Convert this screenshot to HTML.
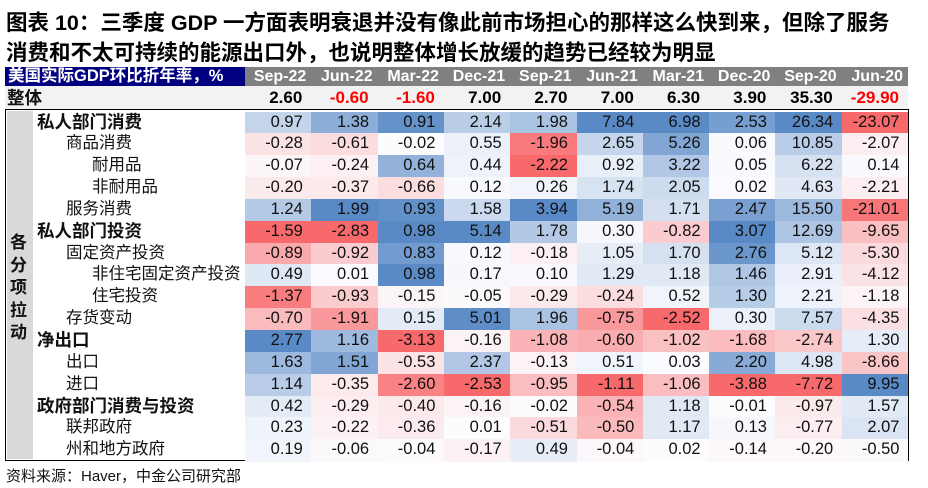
<!DOCTYPE html>
<html><head><meta charset="utf-8">
<style>
body{margin:0;width:928px;height:488px;background:#fff;font-family:"Liberation Sans","Noto Sans CJK SC",sans-serif;position:relative;overflow:hidden}
.t{position:absolute;left:6px;font-size:21.5px;font-weight:bold;color:#000;white-space:nowrap}
.abs{position:absolute;box-sizing:border-box}
.cell{position:absolute;text-align:right;font-size:16.5px;color:#111;box-sizing:border-box;padding-right:9px}
.lab{position:absolute;font-size:16.5px;color:#111;white-space:nowrap}
</style></head><body>
<div class="t" style="top:6px">图表 10：三季度 GDP 一方面表明衰退并没有像此前市场担心的那样这么快到来，但除了服务</div>
<div class="t" style="top:36px">消费和不太可持续的能源出口外，也说明整体增长放缓的趋势已经较为明显</div>
<div class="abs" style="left:5px;top:67px;width:240px;height:19px;background:#000080;color:#fff;font-size:16.5px;font-weight:bold;padding-left:3px;line-height:19px;white-space:nowrap">美国实际GDP环比折年率，%</div>
<div class="abs" style="left:245px;top:67px;width:663px;height:19px;background:#808080"></div>
<div class="abs" style="left:5px;top:86px;width:903px;height:23px;background:#f2f2f2"></div>
<div class="lab" style="left:7px;top:87px;font-weight:bold;font-size:17.5px;line-height:22px">整体</div>
<div class="abs" style="left:5px;top:109px;width:904px;height:352px;border:1.5px solid #000"></div>
<div class="abs" style="left:7px;top:111px;width:26px;height:348px;background:#d9d9d9"></div>
<div class="lab" style="left:10px;top:232px;font-weight:bold;font-size:17px;width:19px;white-space:normal;line-height:22.5px">各分项拉动</div>
<div id="root"></div>
<div class="lab" style="left:6px;top:465px;font-size:15px">资料来源：Haver，中金公司研究部</div>
<script>
const dates=["Sep-22","Jun-22","Mar-22","Dec-21","Sep-21","Jun-21","Mar-21","Dec-20","Sep-20","Jun-20"];
const totals=[2.60,-0.60,-1.60,7.00,2.70,7.00,6.30,3.90,35.30,-29.90];
const rowLabels=["私人部门消费","商品消费","耐用品","非耐用品","服务消费","私人部门投资","固定资产投资","非住宅固定资产投资","住宅投资","存货变动","净出口","出口","进口","政府部门消费与投资","联邦政府","州和地方政府"];
const rowLevels=[0,1,2,2,1,0,1,2,2,1,0,1,1,0,1,1];
const values=[
[0.97,1.38,0.91,2.14,1.98,7.84,6.98,2.53,26.34,-23.07],
[-0.28,-0.61,-0.02,0.55,-1.96,2.65,5.26,0.06,10.85,-2.07],
[-0.07,-0.24,0.64,0.44,-2.22,0.92,3.22,0.05,6.22,0.14],
[-0.20,-0.37,-0.66,0.12,0.26,1.74,2.05,0.02,4.63,-2.21],
[1.24,1.99,0.93,1.58,3.94,5.19,1.71,2.47,15.50,-21.01],
[-1.59,-2.83,0.98,5.14,1.78,0.30,-0.82,3.07,12.69,-9.65],
[-0.89,-0.92,0.83,0.12,-0.18,1.05,1.70,2.76,5.12,-5.30],
[0.49,0.01,0.98,0.17,0.10,1.29,1.18,1.46,2.91,-4.12],
[-1.37,-0.93,-0.15,-0.05,-0.29,-0.24,0.52,1.30,2.21,-1.18],
[-0.70,-1.91,0.15,5.01,1.96,-0.75,-2.52,0.30,7.57,-4.35],
[2.77,1.16,-3.13,-0.16,-1.08,-0.60,-1.02,-1.68,-2.74,1.30],
[1.63,1.51,-0.53,2.37,-0.13,0.51,0.03,2.20,4.98,-8.66],
[1.14,-0.35,-2.60,-2.53,-0.95,-1.11,-1.06,-3.88,-7.72,9.95],
[0.42,-0.29,-0.40,-0.16,-0.02,-0.54,1.18,-0.01,-0.97,1.57],
[0.23,-0.22,-0.36,0.01,-0.51,-0.50,1.17,0.13,-0.77,2.07],
[0.19,-0.06,-0.04,-0.17,0.49,-0.04,0.02,-0.14,-0.20,-0.50]];
const x0=245,colW=66.3,y0=111.5,rowH=21.85;
const xPos=i=>x0+i*colW, yPos=r=>y0+r*rowH;
const root=document.getElementById('root');
function mix(a,b,t){return 'rgb('+a.map((v,i)=>Math.round(v+(b[i]-v)*t)).join(',')+')';}
const W=[252,252,255],B=[90,138,198],R=[248,105,107];
dates.forEach((d,c)=>{
 const h=document.createElement('div');h.className='cell';
 
 
 h.style.cssText=`left:${xPos(c)}px;top:67px;width:${colW}px;height:19px;line-height:19px;color:#fff;font-weight:bold;font-size:16px;padding-right:5px`;
 h.textContent=d;root.appendChild(h);
 const t=document.createElement('div');t.className='cell';
 
 
 t.style.cssText=`left:${xPos(c)}px;top:86px;width:${colW}px;height:23px;line-height:23px;font-weight:bold;font-size:17px;color:${totals[c]<0?'#ff0000':'#000'}`;
 t.textContent=totals[c].toFixed(2);root.appendChild(t);
 const col=values.map(r=>r[c]);const mx=Math.max(...col),mn=Math.min(...col);
 values.forEach((row,r)=>{
  const v=row[c];let bg;
  if(v>=0)bg=mix(W,B,mx>0?v/mx:0);else bg=mix(W,R,mn<0?v/mn:0);
  const e=document.createElement('div');e.className='cell';
  
  
  e.style.cssText=`left:${xPos(c)}px;top:${yPos(r)}px;width:${colW+0.5}px;height:${rowH+0.5}px;line-height:${rowH}px;background:${bg}`;
  e.textContent=v.toFixed(2);root.appendChild(e);
 });
});
rowLabels.forEach((l,r)=>{
 const e=document.createElement('div');e.className='lab';
 
 
 const lv=rowLevels[r];
 e.style.cssText=`left:${[37,66,92][lv]}px;top:${yPos(r)}px;line-height:${rowH}px;${lv==0?'font-weight:bold;font-size:17.5px':''}`;
 e.textContent=l;root.appendChild(e);
});
</script>
</body></html>
